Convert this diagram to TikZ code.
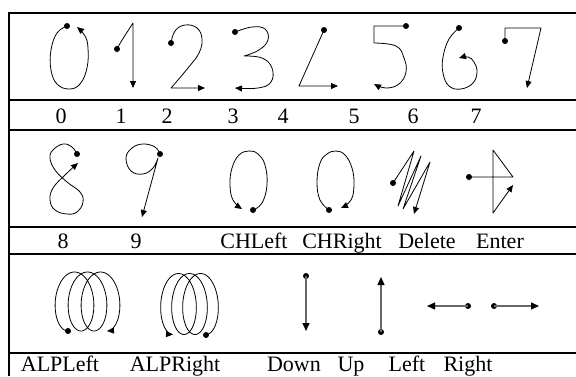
\documentclass[tikz,border=0pt]{standalone}
\usepackage{fontspec}
\setmainfont{Liberation Serif}
\usetikzlibrary{arrows.meta}
\begin{document}
\begin{tikzpicture}[x=1pt,y=-1pt,
  pen/.style={line width=0.8pt, black, line join=round},
  arr/.style={pen, -{Triangle[length=7pt,width=6pt]}},
  garr/.style={line width=1.3pt, black!60, -{Triangle[length=8pt,width=7pt,color=black]}},
  rule/.style={line width=2pt, black},
  lbl/.style={font=\fontsize{22}{26}\selectfont, anchor=base, inner sep=0pt},
  dot/.style={circle, fill=black, inner sep=0pt, minimum size=6pt}]
\useasboundingbox (0,0) rectangle (576,376);
% frame
\draw[rule] (9,13) -- (576,13);
\draw[rule] (9,100) -- (576,100);
\draw[rule] (9,130) -- (576,130);
\draw[rule] (9,227) -- (576,227);
\draw[rule] (9,254) -- (576,254);
\draw[rule] (9,353) -- (576,353);
\draw[line width=1.6pt] (9,12) -- (9,376);

% ---------- row 1 ----------
% 0
\node[dot] (d0) at (67,26) {};
\draw[arr] plot[smooth, tension=0.7] coordinates {(67,26) (57,33) (51,50) (51,70) (57,84) (69,89) (80,84) (87,68) (88,48) (85,36) (77,27)};
% 1
\node[dot] (d1) at (117,49) {};
\draw[arr] (d1.center) .. controls (121,41) and (128,31) .. (133,23) -- (133,88);
% 2
\node[dot] (d2) at (171,43) {};
\draw[arr] plot[smooth, tension=0.7] coordinates {(171,43) (175,31) (185,25) (197,28) (202,39) (199,53) (188,68) (171,88)} -- (205,88);
% 3
\node[dot] (d3) at (235,32) {};
\draw[arr] plot[smooth, tension=0.7] coordinates {(235,32) (252,27) (265,29) (268,40) (259,50) (244,56)}
  -- plot[smooth, tension=0.7] coordinates {(244,56) (262,58) (272,68) (271,82) (258,88) (235,88)};
% 4
\node[dot] (d4) at (324,30) {};
\draw[arr] (d4.center) -- (299,86) -- (338,86);
% 5
\node[dot] (d5) at (406,26) {};
\draw[arr] (d5.center) -- (374,26) -- (374,43)
  -- plot[smooth, tension=0.7] coordinates {(374,43) (396,46) (404,58) (406,72) (399,84) (386,88) (374,84)};
% 6
\node[dot] (d6) at (459,28) {};
\draw[arr] plot[smooth, tension=0.7] coordinates {(459,28) (449,39) (443,57) (443,73) (449,86) (461,89) (473,83) (477,72) (474,62) (468,57) (459,58)};
% 7
\node[dot] (d7) at (505,41) {};
\draw[arr] (d7.center) -- (505,28) -- (541,28) -- (527,88);

% labels row 1
\node[lbl] (l0) at (61,123) {0};
\node[lbl] (l1) at (121,123) {1};
\node[lbl] (l2) at (167,123) {2};
\node[lbl] (l3) at (233,123) {3};
\node[lbl] (l4) at (283,123) {4};
\node[lbl] (l5) at (354,123) {5};
\node[lbl] (l6) at (413,123) {6};
\node[lbl] (l7) at (476,123) {7};

% ---------- row 2 ----------
% 8
\node[dot] (d8) at (77,154) {};
\draw[arr] plot[smooth, tension=0.7] coordinates {(77,154) (72,147) (63,144) (53,150) (50,158) (55,170) (67,182) (80,192) (83,202) (77,212) (67,214) (55,210) (50,200) (53,188) (65,175) (78,163)};
% 9
\node[dot] (d9) at (160,154) {};
\draw[arr] plot[smooth, tension=0.7] coordinates {(160,154) (155,147) (143,144) (132,148) (126,158) (131,171) (143,174) (153,168) (158,158)} -- (142,217);
% CHLeft
\node[dot] (dchl) at (253,210) {};
\draw[arr] plot[smooth, tension=0.7] coordinates {(253,210) (262,203) (267,185) (265,165) (258,154) (249,151) (239,155) (232,168) (230,185) (233,200) (242,209)};
% CHRight
\node[dot] (dchr) at (329,210) {};
\draw[arr] plot[smooth, tension=0.7] coordinates {(329,210) (320,200) (317,182) (320,163) (327,154) (336,151) (345,155) (352,168) (354,185) (351,200) (341,208)};
% Delete
\node[dot] (ddel) at (393,183) {};
\draw[arr] (ddel.center) -- (414,151) -- (398,206) -- (421,156) -- (403,209) -- (430,162) -- (414,214);
% Enter
\node[dot] (dent) at (469,177) {};
\draw[arr] (dent.center) -- (513,177) -- (493,150) -- (493,213) -- (513,185);

% labels row 2
\node[lbl] (l8) at (63,248) {8};
\node[lbl] (l9) at (136,248) {9};
\node[lbl] (lchl) at (254,248) {CHLeft};
\node[lbl] (lchr) at (342,248) {CHRight};
\node[lbl] (ldel) at (427,248) {Delete};
\node[lbl] (lent) at (500,248) {Enter};

% ---------- row 3 ----------
\node[dot] (dalpl) at (68,331) {};
\draw[arr] plot[domain=0:1080, samples=220, smooth] ({68 - 16*sin(\x) + 13*\x/360}, {301.5 + 29.5*cos(\x)});
\node[dot] (dalpr) at (206,335) {};
\draw[arr] plot[domain=0:1080, samples=220, smooth] ({206 + 15*sin(\x) - 11*\x/360}, {304 + 30.5*cos(\x)});

\node[dot] (ddown) at (306,276) {};
\coordinate (tdown) at (306,331);
\draw[garr] (ddown.center) -- (tdown);
\node[dot] (dup) at (381,332) {};
\coordinate (tup) at (381,277);
\draw[garr] (dup.center) -- (tup);
\node[dot] (dleft) at (468,306) {};
\coordinate (tleft) at (427,306);
\draw[garr] (dleft.center) -- (tleft);
\node[dot] (dright) at (494,306) {};
\coordinate (tright) at (539,306);
\draw[garr] (dright.center) -- (tright);

% labels row 3
\node[lbl] (lalpl) at (60,371) {ALPLeft};
\node[lbl] (lalpr) at (175,371) {ALPRight};
\node[lbl] (ldown) at (294,371) {Down};
\node[lbl] (lup) at (351,371) {Up};
\node[lbl] (lleft) at (407,371) {Left};
\node[lbl] (lright) at (468,371) {Right};
\end{tikzpicture}
\end{document}
